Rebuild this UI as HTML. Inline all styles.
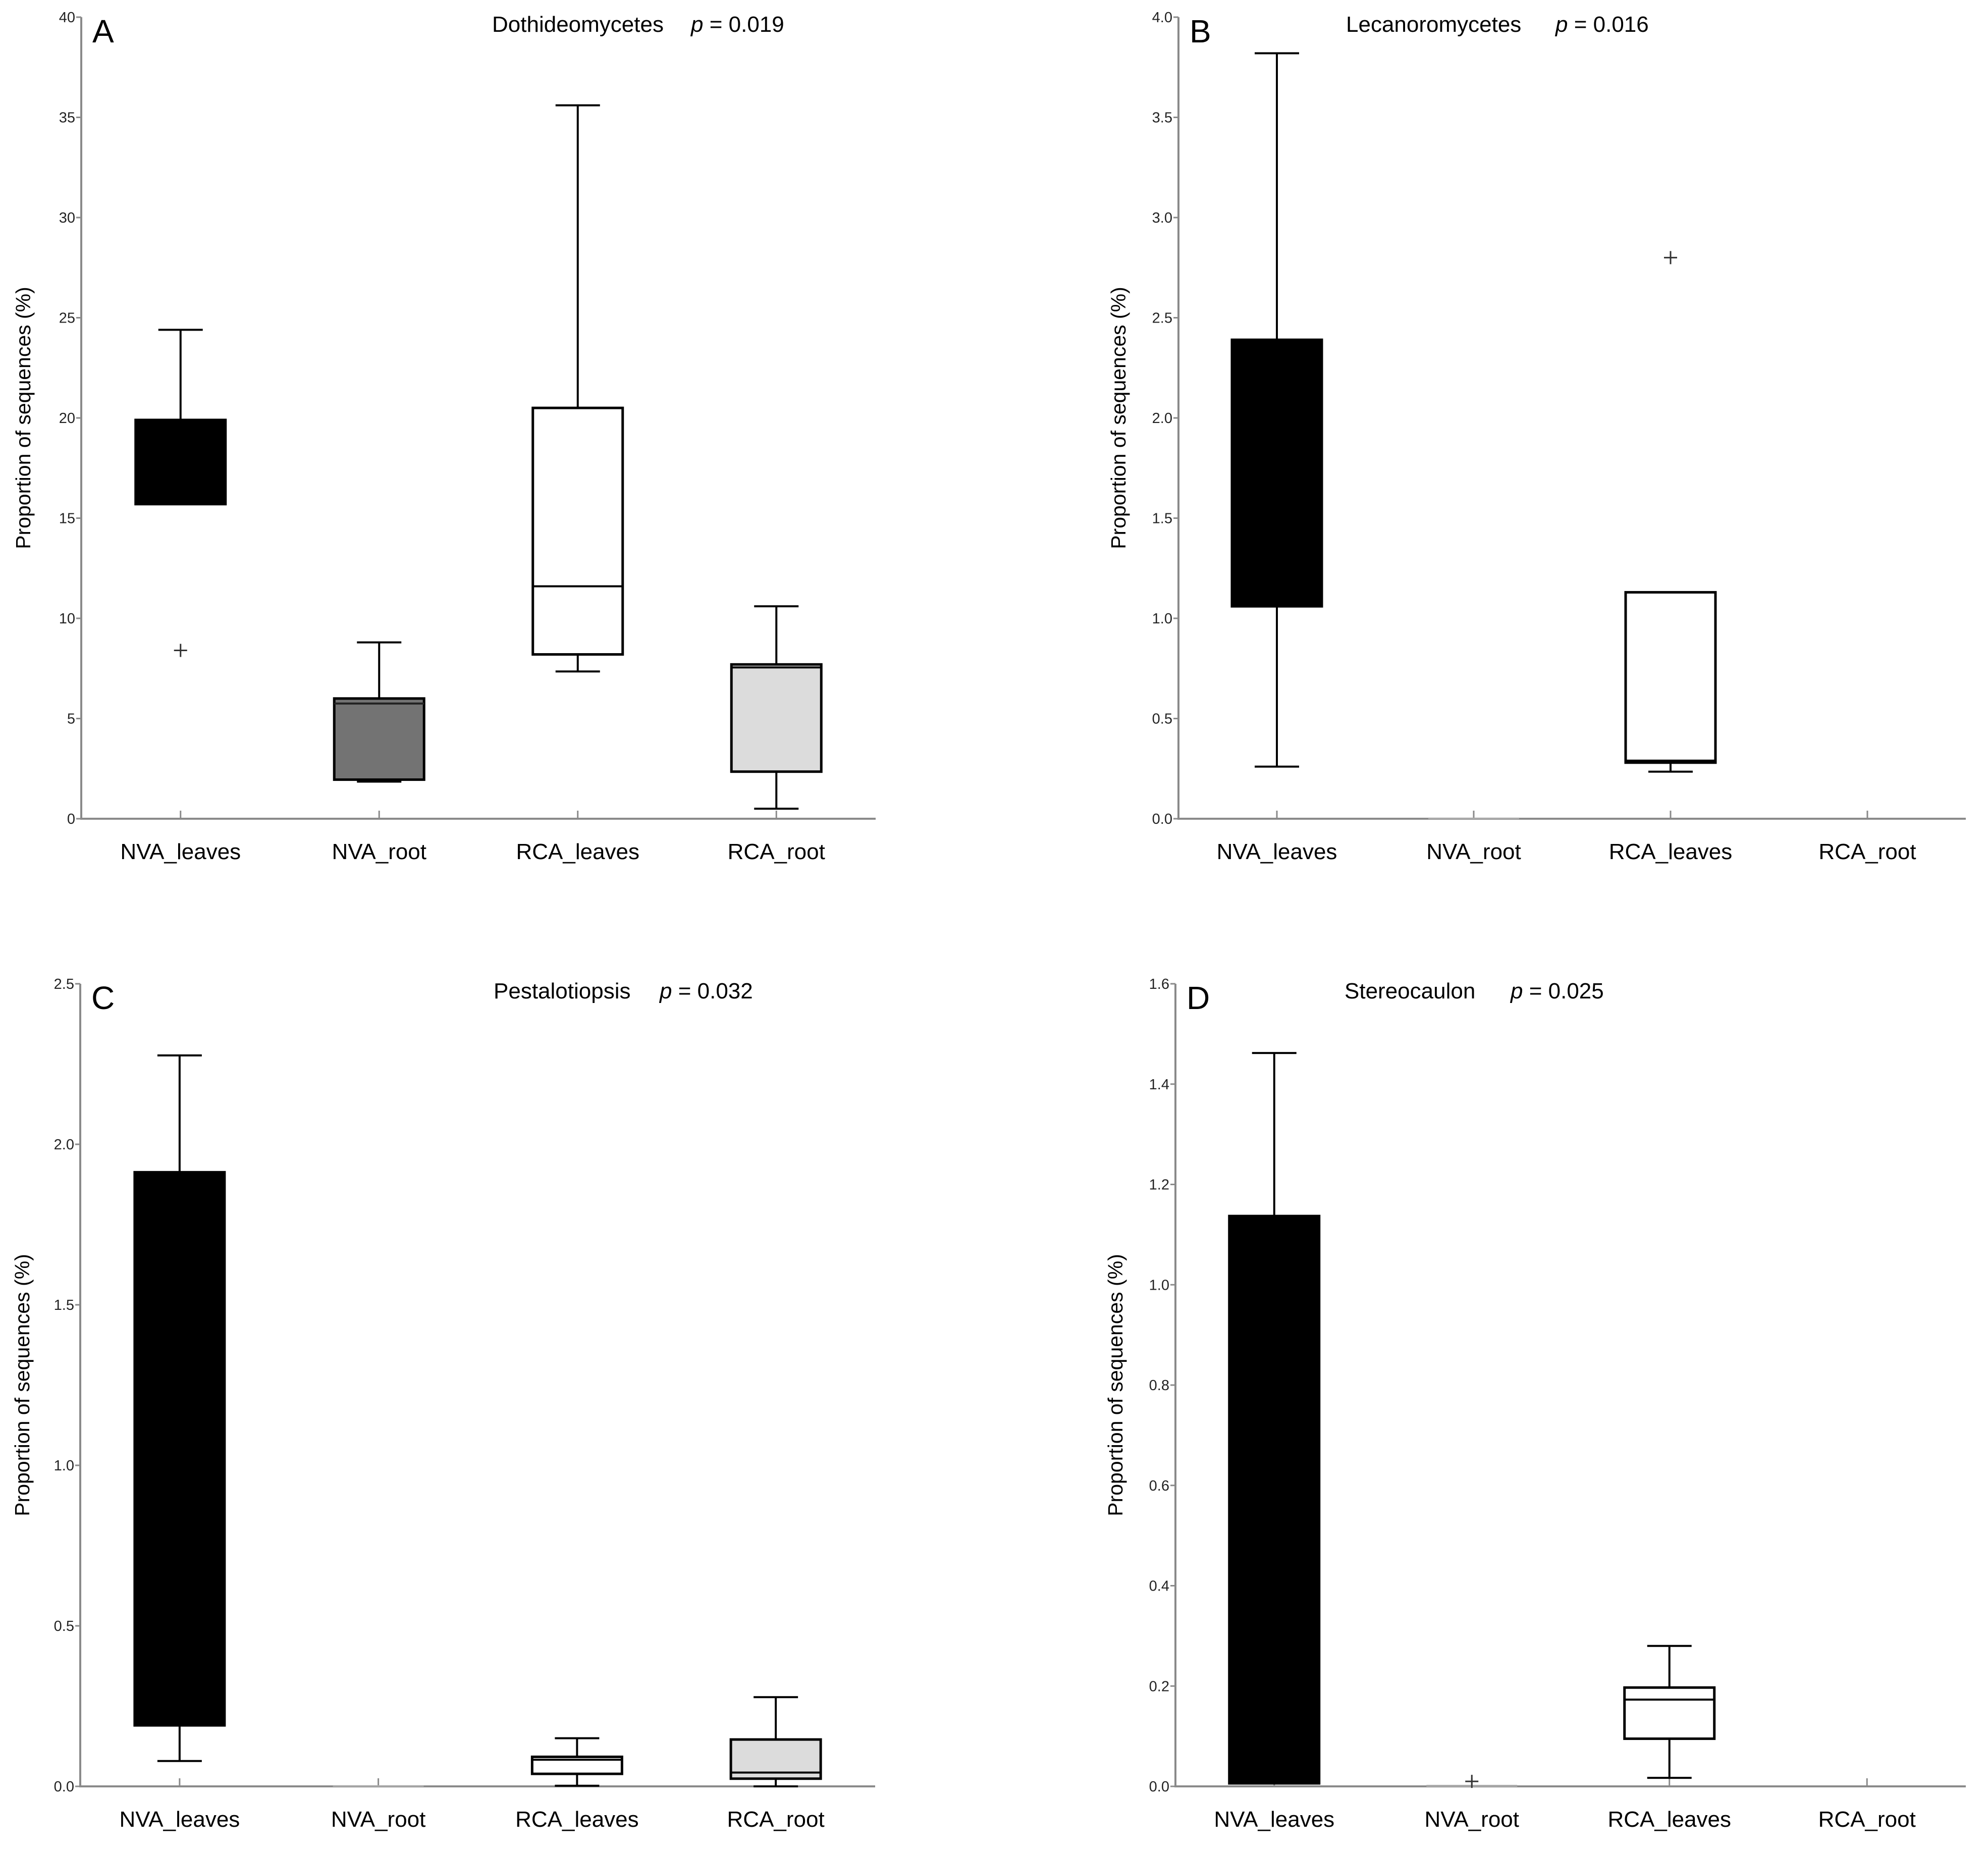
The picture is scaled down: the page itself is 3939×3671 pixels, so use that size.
<!DOCTYPE html>
<html><head><meta charset="utf-8">
<style>html,body{margin:0;padding:0;background:#fff}svg{display:block}</style>
</head><body>
<svg id="fig" width="3939" height="3671" viewBox="0 0 3939 3671" xmlns="http://www.w3.org/2000/svg" font-family="Liberation Sans, Arial, sans-serif"></svg>
<script>
const categories = ["NVA_leaves","NVA_root","RCA_leaves","RCA_root"];
const fills = ["#000000","#737373","#ffffff","#dcdcdc"];
// [low whisker, Q1, median, Q3, high whisker]
const statsA = [[15.7,15.7,15.8,19.9,24.4],[1.85,1.95,5.75,6.0,8.8],[7.35,8.2,11.6,20.5,35.6],[0.5,2.35,7.55,7.7,10.6]];
const outliersA = [[8.4],[],[],[]];
const ticksA = [0,5,10,15,20,25,30,35,40];
const statsB = [[0.26,1.06,1.06,2.39,3.82],[0,0,0,0.003,0.003],[0.235,0.28,0.29,1.13,1.13],[0,0,0,0,0]];
const outliersB = [[],[],[2.80],[]];
const ticksB = [0.0,0.5,1.0,1.5,2.0,2.5,3.0,3.5,4.0];
const statsC = [[0.079,0.19,0.19,1.913,2.277],[0,0,0,0.002,0.002],[0.002,0.039,0.083,0.092,0.15],[0,0.024,0.043,0.146,0.278]];
const outliersC = [[],[],[],[]];
const ticksC = [0.0,0.5,1.0,1.5,2.0,2.5];
const statsD = [[0.006,0.006,0.006,1.137,1.462],[0,0,0,0.002,0.002],[0.017,0.095,0.173,0.197,0.28],[0,0,0,0,0]];
const outliersD = [[],[0.01],[],[]];
const ticksD = [0.0,0.2,0.4,0.6,0.8,1.0,1.2,1.4,1.6];

const NS="http://www.w3.org/2000/svg";
const svg=document.getElementById('fig');
function mk(tag,attrs,parent){const e=document.createElementNS(NS,tag);for(const k in attrs)e.setAttribute(k,attrs[k]);(parent||svg).appendChild(e);return e;}

function panel(o){
  const g=mk('g',{});
  
  
  const x0=o.x0,x1=o.x1,yTop=o.yTop,yBot=o.yBot;
  const ymax=o.ticks[o.ticks.length-1];
  const Y=v=>yBot-(v/ymax)*(yBot-yTop);
  const bw=(x1-x0)/categories.length;
  const X=i=>x0+bw*(i+0.5);
  const ax=mk('path',{d:`M${x0},${yTop} L${x0},${yBot} L${x1},${yBot}`,fill:'none',stroke:'#8a8a8a','stroke-width':4},g);
  
  
  o.ticks.forEach(t=>{
    const tk=mk('line',{x1:x0-10,x2:x0,y1:Y(t),y2:Y(t),stroke:'#8a8a8a','stroke-width':3},g);
    
    
    const lb=mk('text',{x:x0-12,y:Y(t)+10,'text-anchor':'end','font-size':29,fill:'#222'},g);
    
    
    lb.textContent=o.fmt(t);
  });
  categories.forEach((c,i)=>{
    const tk=mk('line',{x1:X(i),x2:X(i),y1:yBot-16,y2:yBot,stroke:'#8a8a8a','stroke-width':3},g);
    
    
    const lb=mk('text',{x:X(i),y:yBot+80,'text-anchor':'middle','font-size':44,fill:'#000'},g);
    
    
    lb.textContent=c;
  });
  o.stats.forEach((s,i)=>{
    const [lo,q1,md,q3,hi]=s;const cx=X(i);const w=178,cw=88;
    const bg=mk('g',{},g);
    
    
    if(hi>q3){mk('line',{x1:cx,x2:cx,y1:Y(hi),y2:Y(q3),stroke:'#000','stroke-width':4},bg);
      mk('line',{x1:cx-cw/2,x2:cx+cw/2,y1:Y(hi),y2:Y(hi),stroke:'#000','stroke-width':4},bg);}
    if(lo<q1){mk('line',{x1:cx,x2:cx,y1:Y(q1),y2:Y(lo),stroke:'#000','stroke-width':4},bg);
      mk('line',{x1:cx-cw/2,x2:cx+cw/2,y1:Y(lo),y2:Y(lo),stroke:'#000','stroke-width':4},bg);}
    if(q3>0){
      const h=Math.max(Y(q1)-Y(q3),1);
      const thin=(q3-q1<ymax*0.002);
      mk('rect',{x:cx-w/2,y:Y(q3),width:w,height:h,fill:fills[i],stroke:thin?'#aaa':'#000','stroke-width':thin?2:5},bg);
      if(!thin) mk('line',{x1:cx-w/2,x2:cx+w/2,y1:Y(md),y2:Y(md),stroke:i===1?'#222':'#000','stroke-width':4},bg);
    }
  });
  o.outliers.forEach((arr,i)=>arr.forEach(v=>{
    const p=mk('path',{d:`M${X(i)-13},${Y(v)} h26 M${X(i)},${Y(v)-13} v26`,stroke:'#333','stroke-width':3,fill:'none'},g);
    
    
  }));
  const L=mk('text',{x:x0+22,y:yTop+50,'font-size':64,fill:'#000'},g);
  
  
  L.textContent=o.letter;
  const T=mk('text',{x:o.tx,y:yTop+29,'font-size':44,fill:'#000'},g);
  
  
  T.textContent=o.title;
  const P=mk('text',{x:o.px,y:yTop+29,'font-size':44,fill:'#000'},g);
  
  
  const it=mk('tspan',{'font-style':'italic'},P);it.textContent='p';
  const rest=mk('tspan',{},P);rest.textContent=' = '+o.p;
  const yt=mk('text',{x:0,y:0,'font-size':41,'text-anchor':'middle',fill:'#000',transform:`translate(${o.ytx},${(yTop+yBot)/2}) rotate(-90)`},g);
  
  
  yt.textContent='Proportion of sequences (%)';
}
const f0=v=>String(v), f1=v=>v.toFixed(1);
panel({letter:'A',title:'Dothideomycetes',p:'0.019',x0:161,x1:1735,yTop:34,yBot:1622,ticks:ticksA,stats:statsA,outliers:outliersA,fmt:f0,tx:975,px:1369,ytx:60});
panel({letter:'B',title:'Lecanoromycetes',p:'0.016',x0:2335,x1:3895,yTop:34,yBot:1622,ticks:ticksB,stats:statsB,outliers:outliersB,fmt:f1,tx:2667,px:3082,ytx:2230});
panel({letter:'C',title:'Pestalotiopsis',p:'0.032',x0:159,x1:1734,yTop:1949,yBot:3539,ticks:ticksC,stats:statsC,outliers:outliersC,fmt:f1,tx:978,px:1307,ytx:58});
panel({letter:'D',title:'Stereocaulon',p:'0.025',x0:2329,x1:3895,yTop:1949,yBot:3539,ticks:ticksD,stats:statsD,outliers:outliersD,fmt:f1,tx:2664,px:2993,ytx:2224});
</script>
</body></html>
